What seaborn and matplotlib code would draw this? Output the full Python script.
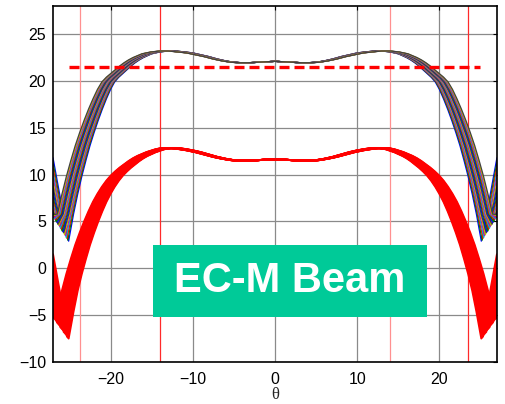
import numpy as np
import pandas as pd
import matplotlib
matplotlib.use("Agg")
import matplotlib.pyplot as plt
from matplotlib.patches import Rectangle
import seaborn as sns

# Beam-pattern traces (dB) versus scan angle theta (deg).
# Half-pattern sample angles; 25.1 is the first null.
theta_half = [0, 1, 2, 3, 4, 5, 6, 7, 8, 9, 10, 11, 12, 13, 13.5, 14, 14.5,
              15, 15.5, 16, 16.5, 17, 17.5, 18, 18.5, 19, 19.5, 20, 20.5,
              21, 21.5, 22, 22.5, 23, 23.5, 24, 24.5, 25.1, 26, 26.5, 27]

# Narrowest multicolour trace (its null value comes from colour_nulls)
colour_half = [22.1, 22.05, 22.0, 21.95, 21.95, 22.0, 22.15, 22.35, 22.6, 22.8,
               23.0, 23.1, 23.2, 23.2, 23.15, 23.1, 23.0, 22.9, 22.7, 22.5,
               22.25, 21.95, 21.6, 21.2, 20.8, 20.4, 19.9, 19.1, 18.1, 17.0,
               15.8, 14.5, 13.1, 11.5, 9.8, 7.9, 5.8, None, 7.0, 9.4, 11.8]

# Narrowest red trace
red_half = [11.6, 11.6, 11.55, 11.5, 11.5, 11.55, 11.7, 11.9, 12.15, 12.4,
            12.6, 12.75, 12.85, 12.8, 12.7, 12.55, 12.4, 12.2, 12.0, 11.75,
            11.45, 11.1, 10.75, 10.35, 9.9, 9.35, 8.7, 7.95, 7.1, 6.1,
            5.0, 3.8, 2.5, 1.0, -0.6, -2.4, -4.6, None, -3.3, -0.9, 1.5]

# Angular widening of each trace in the bundle
bundle_scale = [1.0, 1.004, 1.008, 1.012, 1.016, 1.02, 1.024, 1.028, 1.032,
                1.036, 1.04, 1.044, 1.048, 1.052, 1.056, 1.06, 1.064, 1.068,
                1.072, 1.076, 1.08]

# Depth of the first null for each trace
colour_nulls = [2.9, 3.0, 3.2, 3.3, 3.5, 3.6, 3.8, 3.9, 4.0, 4.2, 4.3,
                4.5, 4.6, 4.7, 4.9, 5.0, 5.2, 5.3, 5.4, 5.6, 5.7]
red_nulls = [-7.5, -7.4, -7.3, -7.1, -7.0, -6.9, -6.8, -6.6, -6.5, -6.4, -6.3,
             -6.1, -6.0, -5.9, -5.8, -5.6, -5.5, -5.4, -5.3, -5.1, -5.0]

threshold_level = 21.5
threshold_span = (-25, 25)
guide_theta = [-23.7, -14, 14, 23.5]
guide_colors = ["#ff9090", "#ff2a2a", "#ff9090", "#ff2a2a"]

x_ticks = [-20, -10, 0, 10, 20]
y_ticks = [-10, -5, 0, 5, 10, 15, 20, 25]

matlab_order = [(0, 0, 1), (0, 0.5, 0), (1, 0, 0), (0, 0.75, 0.75),
                (0.75, 0, 0.75), (0.75, 0.75, 0), (0.25, 0.25, 0.25)]


def mirror(half):
    return list(reversed(half)) + list(half[1:])


theta_full = np.array([-t for t in reversed(theta_half)] + theta_half[1:], dtype=float)


def bundle_frame(half_values, nulls):
    frames = []
    for k, (s, depth) in enumerate(zip(bundle_scale, nulls)):
        vals = [depth if v is None else v for v in half_values]
        frames.append(pd.DataFrame({
            "theta": theta_full * s,
            "gain": mirror(vals),
            "trace": k,
        }))
    return pd.concat(frames, ignore_index=True)


colour_df = bundle_frame(colour_half, colour_nulls)
red_df = bundle_frame(red_half, red_nulls)

sns.set_style("white")
plt.rcParams["font.family"] = ["Liberation Sans", "DejaVu Sans"]

fig = plt.figure(figsize=(5.05, 4.04), dpi=100)
ax = fig.add_axes([0.105, 0.104, 0.879, 0.881])

for xv, c in zip(guide_theta, guide_colors):
    ax.axvline(xv, color=c, lw=0.9, zorder=1.5)

palette = [matlab_order[k % len(matlab_order)] for k in range(len(bundle_scale))]
sns.lineplot(data=colour_df, x="theta", y="gain", hue="trace", palette=palette,
             estimator=None, sort=False, legend=False, lw=0.9, ax=ax, zorder=2)
sns.lineplot(data=red_df, x="theta", y="gain", units="trace", color="red",
             estimator=None, sort=False, legend=False, lw=1.4, ax=ax, zorder=2)

ax.hlines(threshold_level, *threshold_span, colors="red", lw=2.4,
          linestyles=(0, (3.0, 1.5)), zorder=3)

ax.set_xlim(-27, 27)
ax.set_ylim(-10, 28)
ax.set_xticks(x_ticks)
ax.set_yticks(y_ticks)
ax.grid(True, color="#8a8a8a", lw=0.9)
ax.set_axisbelow(True)
ax.tick_params(direction="in", top=True, right=True, length=3, width=0.8,
               labelsize=11.5, colors="black")
ax.tick_params(axis="x", pad=7)
ax.tick_params(axis="y", pad=5)
for sp in ax.spines.values():
    sp.set_color("black")
    sp.set_linewidth(1.2)

ax.set_xlabel("θ", fontfamily="Liberation Serif", fontsize=12, labelpad=0.5)
ax.set_ylabel("")

ax.add_patch(Rectangle((0.225, 0.126), 0.617, 0.203, transform=ax.transAxes,
                       facecolor="#00CA98", edgecolor="none", zorder=5))
ax.text(0.534, 0.228, "EC-M Beam", transform=ax.transAxes, ha="center",
        va="center", color="white", fontsize=30, fontweight="bold",
        fontfamily="Liberation Sans", zorder=6)

fig.savefig("out.png", dpi=100)
